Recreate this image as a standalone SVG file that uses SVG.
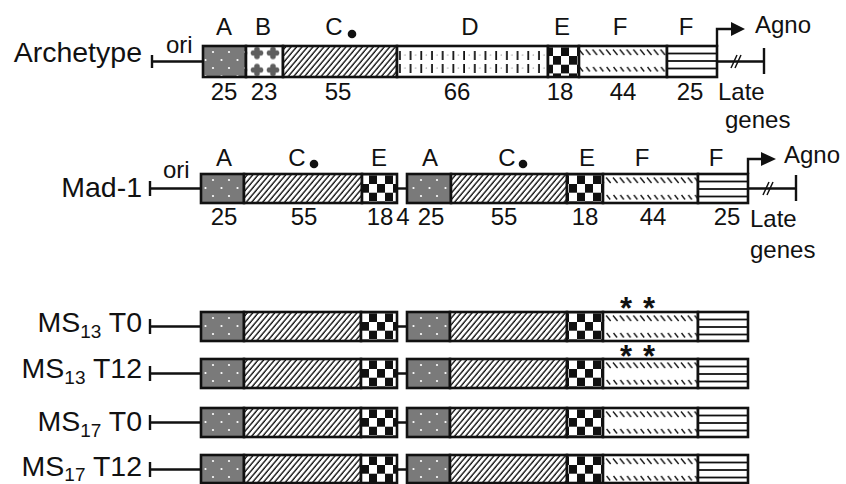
<svg xmlns="http://www.w3.org/2000/svg" width="846" height="484" viewBox="0 0 846 484">
<style>
text{font-family:"Liberation Sans",Arial,sans-serif;fill:#111}
.big{font-size:28.5px}
.lab{font-size:24px;text-anchor:middle}
.lt{font-size:24px}
.seg{stroke:#111;stroke-width:2.6}
.ln{stroke:#111;stroke-width:2.4;fill:none}
.thin{stroke:#111;stroke-width:1.5;fill:none}
.ast{font-size:31px;font-weight:bold;text-anchor:middle}
</style>
<defs>
<pattern id="pA" patternUnits="userSpaceOnUse" width="16" height="16">
<rect width="16" height="16" fill="#7a7a7a"/>
<circle cx="5" cy="6" r="1.1" fill="#fff"/>
<circle cx="13.5" cy="14" r="1.1" fill="#fff"/>
</pattern>
<pattern id="pB" patternUnits="userSpaceOnUse" x="9" y="-1.5" width="16" height="17">
<rect width="16" height="17" fill="#fff"/>
<g fill="#5e5e5e">
<circle cx="8" cy="5" r="2.8"/><circle cx="8" cy="12" r="2.8"/>
<circle cx="4.5" cy="8.5" r="2.8"/><circle cx="11.5" cy="8.5" r="2.8"/>
<rect x="5.5" y="6" width="5" height="5"/>
</g>
</pattern>
<pattern id="pC" patternUnits="userSpaceOnUse" width="4.2" height="4.2" patternTransform="rotate(40)">
<rect width="4.2" height="4.2" fill="#fff"/>
<line x1="1" y1="0" x2="1" y2="4.2" stroke="#111" stroke-width="1.4"/>
</pattern>
<pattern id="pD" patternUnits="userSpaceOnUse" x="1" width="10.7" height="31">
<rect width="10.7" height="31" fill="#fff"/>
<line x1="3" y1="5" x2="3" y2="14" stroke="#111" stroke-width="1.8"/>
<line x1="3" y1="18" x2="3" y2="27" stroke="#111" stroke-width="1.8"/>
<circle cx="8" cy="9" r="0.6" fill="#555"/>
<circle cx="8" cy="22" r="0.6" fill="#555"/>
</pattern>
<pattern id="pE" patternUnits="userSpaceOnUse" x="1" y="1.3" width="16" height="17.4">
<rect width="16" height="17.4" fill="#fff"/>
<rect width="8" height="8.7" fill="#111"/>
<rect x="8" y="8.7" width="8" height="8.7" fill="#111"/>
</pattern>
<pattern id="pF" patternUnits="userSpaceOnUse" width="6.8" height="31">
<rect width="6.8" height="31" fill="#fff"/>
<line x1="1" y1="3.5" x2="5.5" y2="9" stroke="#111" stroke-width="1.3"/>
<line x1="1.5" y1="21" x2="5" y2="25.5" stroke="#111" stroke-width="1.3"/>
</pattern>
<pattern id="pG" patternUnits="userSpaceOnUse" width="10" height="31">
<rect width="10" height="31" fill="#fff"/>
<line x1="0" y1="7.5" x2="10" y2="7.5" stroke="#111" stroke-width="1.8"/>
<line x1="0" y1="15" x2="10" y2="15" stroke="#111" stroke-width="1.8"/>
<line x1="0" y1="22.5" x2="10" y2="22.5" stroke="#111" stroke-width="1.8"/>
</pattern>
</defs>

<g id="connectors">
<path class="ln" d="M152,55 V68 M152,61.5 H203"/>
<path class="ln" d="M717,61.5 H764 M764,48 V74"/>
<path class="thin" d="M731,68 L737,55 M735,68 L741,55"/>
<path class="ln" d="M717,47 V29 H733"/>
<polygon points="731,22 745,29 731,36" fill="#111"/>
<path class="ln" d="M150,181 V196 M150,188.5 H201"/>
<path class="ln" d="M397,188.5 H407"/>
<path class="ln" d="M748,188.5 H796 M796,175 V201"/>
<path class="thin" d="M763,195 L769,182 M767,195 L773,182"/>
<path class="ln" d="M748,174 V159 H762"/>
<polygon points="761,152 776,159 761,166" fill="#111"/>
<path class="ln" d="M150,319 V334 M150,326.5 H201 M397,326.5 H407"/>
<path class="ln" d="M150,366 V381 M150,373.5 H201 M397,373.5 H407"/>
<path class="ln" d="M150,415 V430 M150,422.5 H201 M397,422.5 H407"/>
<path class="ln" d="M150,462 V477 M150,469.5 H201 M397,469.5 H407"/>
</g>

<g id="archetype">
<text class="big" x="142" y="62" text-anchor="end">Archetype</text>
<text class="lt" x="166" y="53">ori</text>
<g transform="translate(0,46)">
<rect class="seg" x="203" y="0" width="43" height="31" fill="url(#pA)"/>
<rect class="seg" x="246" y="0" width="37" height="31" fill="url(#pB)"/>
<rect class="seg" x="283" y="0" width="114" height="31" fill="url(#pC)"/>
<rect class="seg" x="397" y="0" width="151" height="31" fill="url(#pD)"/>
<rect class="seg" x="548" y="0" width="31" height="31" fill="url(#pE)"/>
<rect class="seg" x="579" y="0" width="88" height="31" fill="url(#pF)"/>
<rect class="seg" x="667" y="0" width="50" height="31" fill="url(#pG)"/>
</g>
<text class="lab" x="224" y="35">A</text>
<text class="lab" x="263" y="35">B</text>
<text class="lab" x="334" y="35">C</text>
<circle cx="352" cy="34" r="4.3" fill="#111"/>
<text class="lab" x="470" y="35">D</text>
<text class="lab" x="562" y="35">E</text>
<text class="lab" x="620" y="35">F</text>
<text class="lab" x="686" y="35">F</text>
<text class="lab" x="224" y="100">25</text>
<text class="lab" x="264" y="100">23</text>
<text class="lab" x="338" y="100">55</text>
<text class="lab" x="457" y="100">66</text>
<text class="lab" x="560" y="100">18</text>
<text class="lab" x="623" y="100">44</text>
<text class="lab" x="690" y="100">25</text>
<text class="lt" x="755" y="33">Agno</text>
<text class="lt" x="718" y="100">Late</text>
<text class="lt" x="725" y="128">genes</text>
</g>

<g id="mad1">
<text class="big" x="142" y="197" text-anchor="end">Mad-1</text>
<text class="lt" x="163" y="178">ori</text>
<g transform="translate(0,174)">
<rect class="seg" x="201" y="0" width="43" height="29" fill="url(#pA)"/>
<rect class="seg" x="244" y="0" width="118" height="29" fill="url(#pC)"/>
<rect class="seg" x="362" y="0" width="35" height="29" fill="url(#pE)"/>
<rect class="seg" x="407" y="0" width="44" height="29" fill="url(#pA)"/>
<rect class="seg" x="451" y="0" width="116" height="29" fill="url(#pC)"/>
<rect class="seg" x="567" y="0" width="36" height="29" fill="url(#pE)"/>
<rect class="seg" x="603" y="0" width="95" height="29" fill="url(#pF)"/>
<rect class="seg" x="698" y="0" width="50" height="29" fill="url(#pG)"/>
</g>
<text class="lab" x="297" y="166">C</text>
<text class="lab" x="224" y="166">A</text>
<circle cx="314" cy="164" r="4.3" fill="#111"/>
<text class="lab" x="379" y="166">E</text>
<text class="lab" x="430" y="166">A</text>
<text class="lab" x="507" y="166">C</text>
<circle cx="523" cy="164" r="4.3" fill="#111"/>
<text class="lab" x="587" y="166">E</text>
<text class="lab" x="642" y="166">F</text>
<text class="lab" x="716" y="166">F</text>
<text class="lab" x="224" y="225">25</text>
<text class="lab" x="304" y="225">55</text>
<text class="lab" x="380" y="225">18</text>
<text class="lab" x="403" y="225">4</text>
<text class="lab" x="431" y="225">25</text>
<text class="lab" x="504" y="225">55</text>
<text class="lab" x="585" y="225">18</text>
<text class="lab" x="653" y="225">44</text>
<text class="lab" x="727" y="225">25</text>
<text class="lt" x="784" y="163">Agno</text>
<text class="lt" x="750" y="227">Late</text>
<text class="lt" x="750" y="258">genes</text>
</g>

<g id="ms13t0">
<text class="big" x="142" y="332" text-anchor="end">MS<tspan font-size="19" dy="6">13</tspan><tspan dy="-6"> T0</tspan></text>
<g transform="translate(0,312)">
<rect class="seg" x="201" y="0" width="43" height="29" fill="url(#pA)"/>
<rect class="seg" x="244" y="0" width="117" height="29" fill="url(#pC)"/>
<rect class="seg" x="361" y="0" width="36" height="29" fill="url(#pE)"/>
<rect class="seg" x="407" y="0" width="43" height="29" fill="url(#pA)"/>
<rect class="seg" x="450" y="0" width="117" height="29" fill="url(#pC)"/>
<rect class="seg" x="567" y="0" width="36" height="29" fill="url(#pE)"/>
<rect class="seg" x="603" y="0" width="95" height="29" fill="url(#pF)"/>
<rect class="seg" x="698" y="0" width="50" height="29" fill="url(#pG)"/>
</g>
<text class="ast" x="626" y="319">*</text>
<text class="ast" x="649" y="319">*</text>
</g>

<g id="ms13t12">
<text class="big" x="142" y="378" text-anchor="end">MS<tspan font-size="19" dy="6">13</tspan><tspan dy="-6"> T12</tspan></text>
<g transform="translate(0,359)">
<rect class="seg" x="201" y="0" width="43" height="29" fill="url(#pA)"/>
<rect class="seg" x="244" y="0" width="117" height="29" fill="url(#pC)"/>
<rect class="seg" x="361" y="0" width="36" height="29" fill="url(#pE)"/>
<rect class="seg" x="407" y="0" width="43" height="29" fill="url(#pA)"/>
<rect class="seg" x="450" y="0" width="117" height="29" fill="url(#pC)"/>
<rect class="seg" x="567" y="0" width="36" height="29" fill="url(#pE)"/>
<rect class="seg" x="603" y="0" width="95" height="29" fill="url(#pF)"/>
<rect class="seg" x="698" y="0" width="50" height="29" fill="url(#pG)"/>
</g>
<text class="ast" x="626" y="367">*</text>
<text class="ast" x="649" y="367">*</text>
</g>

<g id="ms17t0">
<text class="big" x="142" y="431" text-anchor="end">MS<tspan font-size="19" dy="6">17</tspan><tspan dy="-6"> T0</tspan></text>
<g transform="translate(0,408)">
<rect class="seg" x="201" y="0" width="43" height="29" fill="url(#pA)"/>
<rect class="seg" x="244" y="0" width="117" height="29" fill="url(#pC)"/>
<rect class="seg" x="361" y="0" width="36" height="29" fill="url(#pE)"/>
<rect class="seg" x="407" y="0" width="43" height="29" fill="url(#pA)"/>
<rect class="seg" x="450" y="0" width="117" height="29" fill="url(#pC)"/>
<rect class="seg" x="567" y="0" width="36" height="29" fill="url(#pE)"/>
<rect class="seg" x="603" y="0" width="95" height="29" fill="url(#pF)"/>
<rect class="seg" x="698" y="0" width="50" height="29" fill="url(#pG)"/>
</g>
</g>

<g id="ms17t12">
<text class="big" x="142" y="476" text-anchor="end">MS<tspan font-size="19" dy="5">17</tspan><tspan dy="-5"> T12</tspan></text>
<g transform="translate(0,455)">
<rect class="seg" x="201" y="0" width="43" height="28" fill="url(#pA)"/>
<rect class="seg" x="244" y="0" width="117" height="28" fill="url(#pC)"/>
<rect class="seg" x="361" y="0" width="36" height="28" fill="url(#pE)"/>
<rect class="seg" x="407" y="0" width="43" height="28" fill="url(#pA)"/>
<rect class="seg" x="450" y="0" width="117" height="28" fill="url(#pC)"/>
<rect class="seg" x="567" y="0" width="36" height="28" fill="url(#pE)"/>
<rect class="seg" x="603" y="0" width="95" height="28" fill="url(#pF)"/>
<rect class="seg" x="698" y="0" width="50" height="28" fill="url(#pG)"/>
</g>
</g>
</svg>
